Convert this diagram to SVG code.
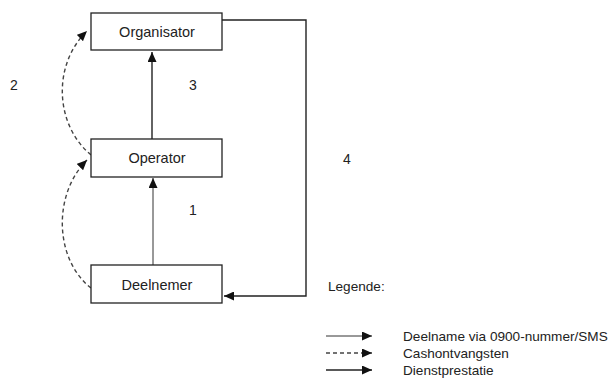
<svg xmlns="http://www.w3.org/2000/svg" width="608" height="389" viewBox="0 0 608 389">
<defs>
<style>
.box{fill:#fff;stroke:#222;stroke-width:1.3}
.lbl{font-family:"Liberation Sans",Arial,sans-serif;font-size:14.5px;fill:#222;text-anchor:middle}
.num{font-family:"Liberation Sans",Arial,sans-serif;font-size:14px;fill:#222}
.leg{font-family:"Liberation Sans",Arial,sans-serif;font-size:13.6px;fill:#222}
.solid{fill:none;stroke:#222;stroke-width:1.4}
.thin{fill:none;stroke:#333;stroke-width:1}
.dash{fill:none;stroke:#444;stroke-width:1.4;stroke-dasharray:4,3}
</style>
<marker id="ah" markerUnits="userSpaceOnUse" markerWidth="10" markerHeight="9" refX="10" refY="4.5" orient="auto">
<path d="M0,0 L10,4.5 L0,9 z" fill="#111"/>
</marker>
</defs>
<rect width="608" height="389" fill="#fff"/>
<g id="connectors">
<path class="solid" d="M152,139 V52" marker-end="url(#ah)"/>
<path class="thin" d="M153,265 V178" marker-end="url(#ah)"/>
<path class="solid" d="M222,20 H306 V296 H224" marker-end="url(#ah)"/>
<path class="dash" d="M91,155 C55,125 52,65 87,31" marker-end="url(#ah)"/>
<path class="dash" d="M91,288 C55,260 52,195 87,160" marker-end="url(#ah)"/>
</g>
<g id="organisator"><rect class="box" x="91" y="13" width="131" height="37"/><text class="lbl" x="157" y="37">Organisator</text></g>
<g id="operator"><rect class="box" x="91" y="139" width="131" height="38"/><text class="lbl" x="157" y="163">Operator</text></g>
<g id="deelnemer"><rect class="box" x="91" y="265" width="131" height="38"/><text class="lbl" x="157" y="290">Deelnemer</text></g>
<g id="labels">
<text class="num" x="10" y="90">2</text>
<text class="num" x="189" y="90">3</text>
<text class="num" x="189" y="215">1</text>
<text class="num" x="343" y="164">4</text>
</g>
<g id="legend">
<text class="leg" x="328" y="291">Legende:</text>
<path class="thin" d="M326,336 H372" marker-end="url(#ah)"/>
<path class="dash" d="M326,353 H372" marker-end="url(#ah)"/>
<path class="solid" d="M326,370 H372" marker-end="url(#ah)"/>
<text class="leg" x="403" y="341">Deelname via 0900-nummer/SMS</text>
<text class="leg" x="403" y="358">Cashontvangsten</text>
<text class="leg" x="403" y="375">Dienstprestatie</text>
</g>
</svg>
